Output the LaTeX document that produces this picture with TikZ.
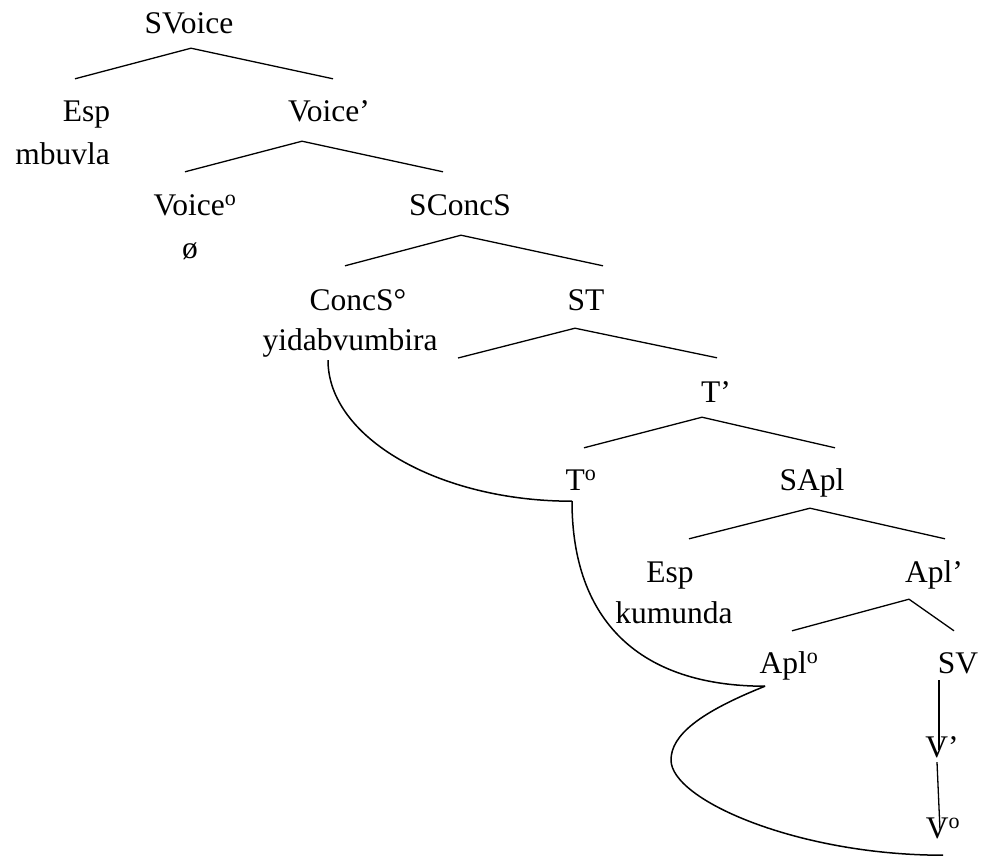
\documentclass[tikz,border=0pt]{standalone}
\usepackage{fontspec}
\setmainfont{Liberation Serif}
\tikzset{
  lbl/.style={anchor=base, inner sep=0pt, text height=22pt, text depth=7pt,
    font=\fontsize{31.5}{38}\selectfont},
  branch/.style={line width=1.3pt},
  move/.style={line width=1.5pt}
}
\begin{document}
\begin{tikzpicture}[x=1pt, y=-1pt]
    \useasboundingbox (0,0) rectangle (985,857);

    % nodos del árbol
    \node[lbl] (svoice) at (189,33) {SVoice};
    \node[lbl] (espa) at (86.5,121) {Esp};
    \node[lbl, anchor=base east] (mbuvla) at (110,164) {mbuvla};
    \node[lbl] (voicebar) at (329,121) {Voice'};
    \node[lbl] (voicehead) at (195,215) {Voice\textsuperscript{o}};
    \node[lbl] (nulo) at (190,258) {ø};
    \node[lbl] (sconcs) at (460,215) {SConcS};
    \node[lbl] (concs) at (358,310) {ConcS°};
    \node[lbl] (yidab) at (350,350) {yidabvumbira};
    \node[lbl] (st) at (586,310) {ST};
    \node[lbl] (tbar) at (716,402) {T'};
    \node[lbl] (thead) at (581,490) {T\textsuperscript{o}};
    \node[lbl] (sapl) at (812,490) {SApl};
    \node[lbl] (espb) at (670,582) {Esp};
    \node[lbl] (kumunda) at (674,623) {kumunda};
    \node[lbl] (aplbar) at (934,582) {Apl'};
    \node[lbl] (aplhead) at (789,673) {Apl\textsuperscript{o}};
    \node[lbl] (sv) at (958,673) {SV};
    \node[lbl] (vbar) at (942,757) {V'};
    \node[lbl] (vhead) at (943,838) {V\textsuperscript{o}};
    \coordinate (stleft) at (458,358);

    % ramas
    \draw[branch] ([xshift=-11.5pt,yshift=20pt]espa.north) -- ([xshift=2pt,yshift=-8pt]svoice.south)
        -- ([xshift=4pt,yshift=20pt]voicebar.north);
    \draw[branch] ([xshift=-10pt,yshift=21pt]voicehead.north) -- ([xshift=-27pt,yshift=-13pt]voicebar.south)
        -- ([xshift=-17pt,yshift=21pt]sconcs.north);
    \draw[branch] ([xshift=-13pt,yshift=22pt]concs.north) -- ([xshift=1pt,yshift=-13pt]sconcs.south)
        -- ([xshift=17pt,yshift=22pt]st.north);
    \draw[branch] (stleft) -- ([xshift=-11pt,yshift=-11pt]st.south)
        -- ([xshift=1pt,yshift=22pt]tbar.north);
    \draw[branch] ([xshift=3pt,yshift=20pt]thead.north) -- ([xshift=-14pt,yshift=-8pt]tbar.south)
        -- ([xshift=23pt,yshift=20pt]sapl.north);
    \draw[branch] ([xshift=19pt,yshift=21pt]espb.north) -- ([xshift=-2pt,yshift=-11pt]sapl.south)
        -- ([xshift=11pt,yshift=21pt]aplbar.north);
    \draw[branch] ([xshift=3pt,yshift=20pt]aplhead.north) -- ([xshift=-25pt,yshift=-10pt]aplbar.south)
        -- ([xshift=-4pt,yshift=20pt]sv.north);
    \draw[branch] ([xshift=-19pt]sv.south) -- ([xshift=-3pt,yshift=14pt]vbar.south);
    \draw[branch] ([xshift=-5pt,yshift=2pt]vbar.south) -- ([xshift=-3pt,yshift=15pt]vhead.south);

    % movimiento del verbo
    \draw[move] ([xshift=-22pt,yshift=-3pt]yidab.south) .. controls +(0,77) and +(-134,0)
        .. ([xshift=-9pt,yshift=-4pt]thead.south);
    \draw[move] ([xshift=-9pt,yshift=-4pt]thead.south) .. controls +(0,120) and +(-125,0)
        .. ([xshift=-24pt,yshift=-6pt]aplhead.south);
    \draw[move] ([xshift=-24pt,yshift=-6pt]aplhead.south) .. controls +(-65,26) and +(0,-25)
        .. (671,760) .. controls +(0,40) and +(-145,0) .. ([yshift=-10pt]vhead.south);
\end{tikzpicture}
\end{document}
